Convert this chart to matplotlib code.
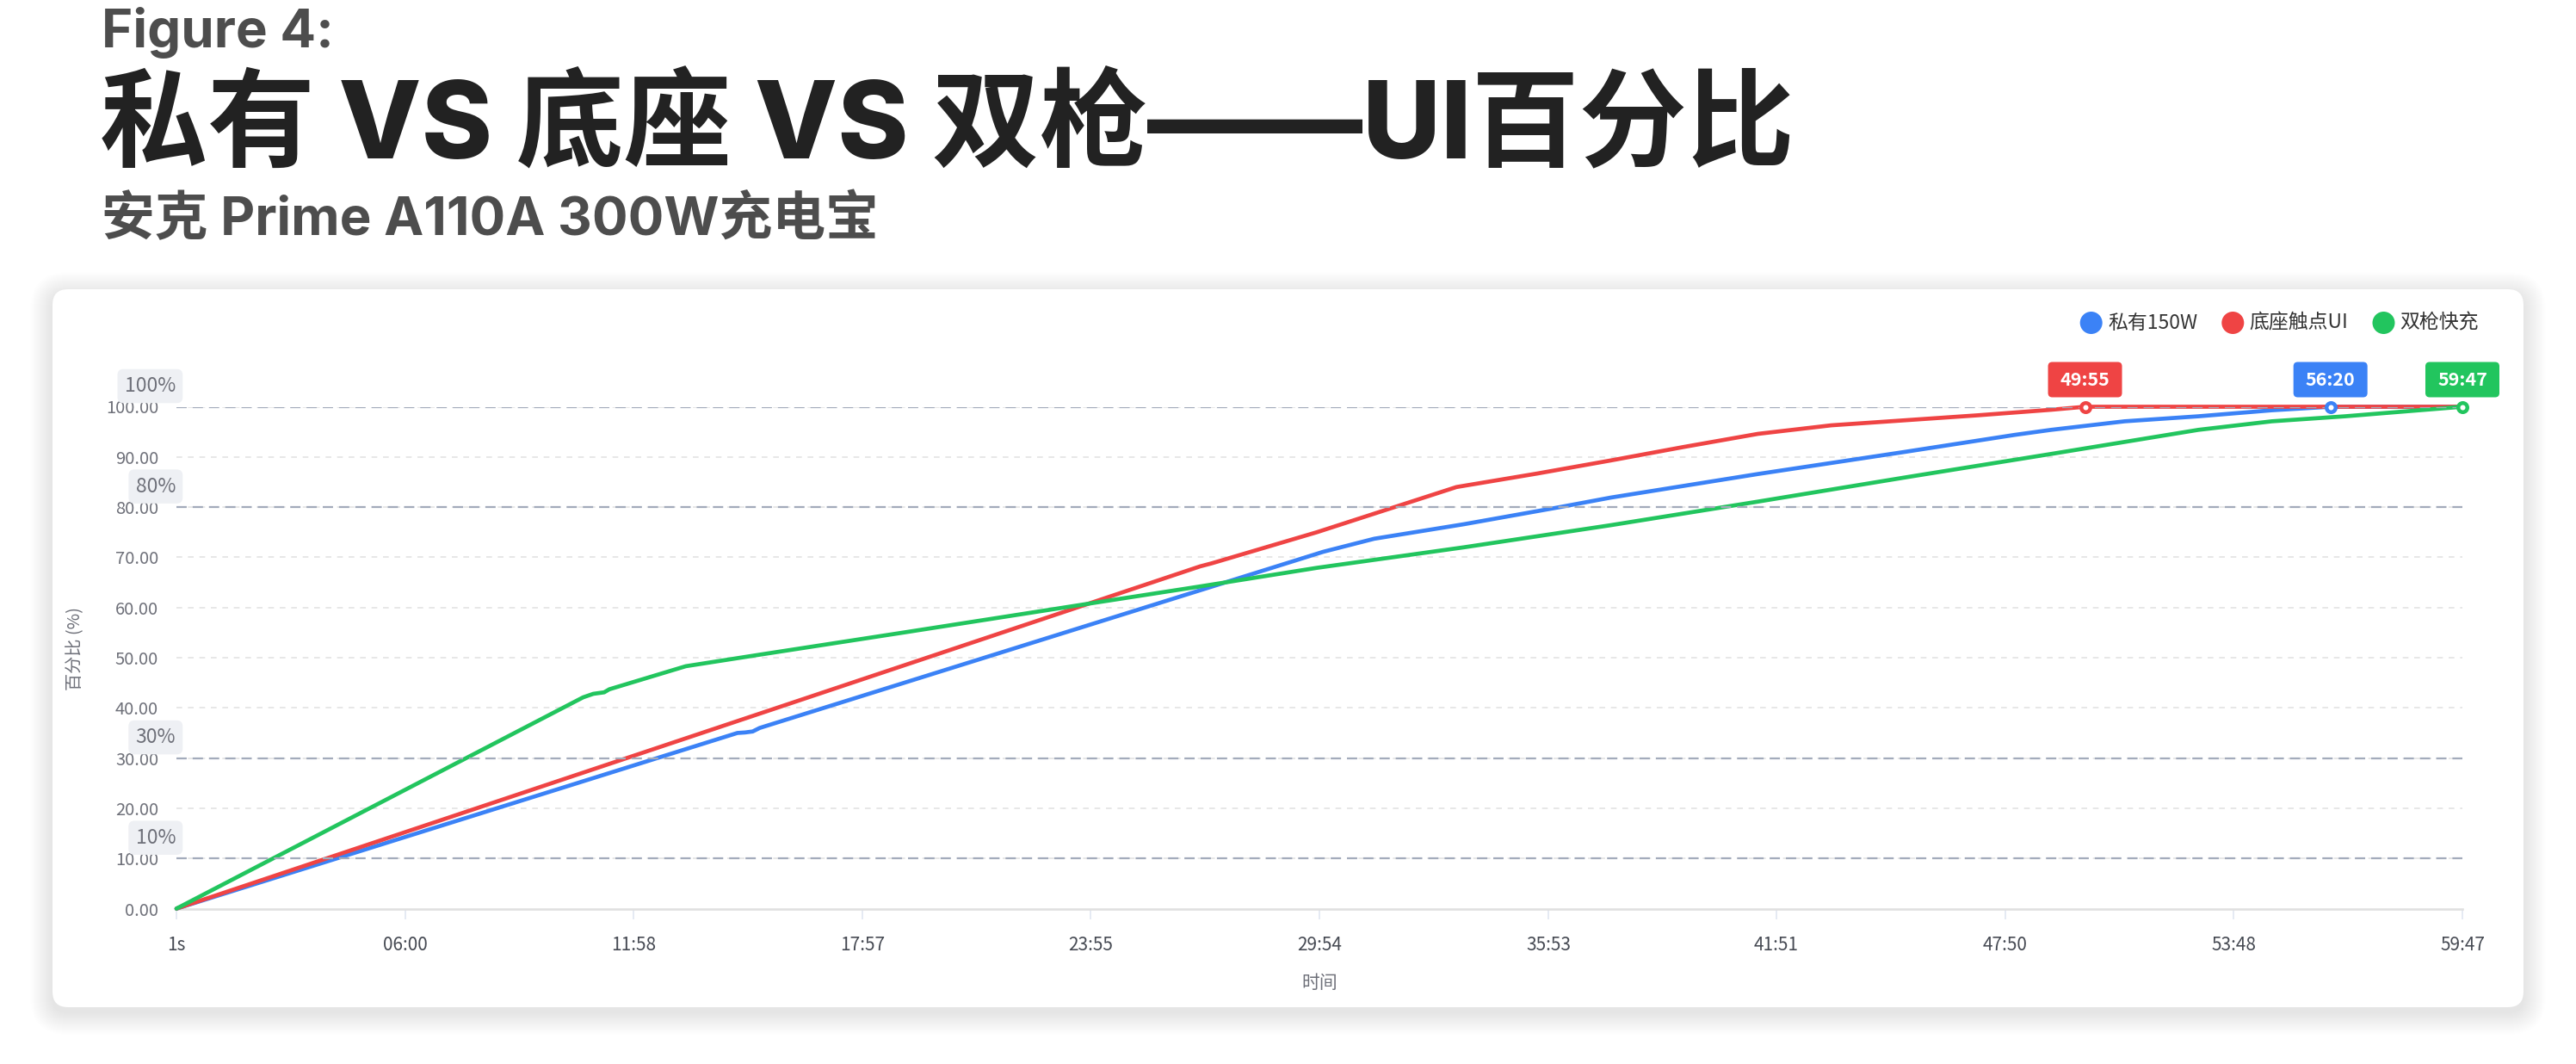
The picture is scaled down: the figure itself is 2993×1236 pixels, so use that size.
import matplotlib
matplotlib.use('Agg')
import matplotlib.pyplot as plt
from matplotlib.patches import FancyBboxPatch, Circle
from matplotlib.transforms import IdentityTransform

W, H = 2993, 1236
DPI = 100

plt.rcParams['font.family'] = ['Noto Sans CJK SC', 'DejaVu Sans']
plt.rcParams['lines.scale_dashes'] = False

# ---------------- data ----------------
series_names = ['私有150W', '底座触点UI', '双枪快充']
series_colors = ['#3b82f6', '#ef4444', '#22c55e']

# time in seconds, value in percent
blue_t = [1, 881, 893, 905, 916, 1800, 1880, 2021, 2171, 2251, 2482, 2712, 2885,
          2942, 3057, 3173, 3288, 3380, 3587]
blue_v = [0, 35.0, 35.1, 35.3, 36.0, 71.1, 73.7, 76.6, 80.0, 81.9, 86.6, 91.0, 94.4,
          95.4, 97.1, 98.1, 99.3, 100, 100]

red_t = [1, 1607, 1625, 1790, 2009, 2136, 2251, 2366, 2424, 2482, 2597, 2712,
         2827, 2942, 2995, 3587]
red_v = [0, 68.2, 68.8, 75.0, 84.0, 86.7, 89.3, 92.0, 93.3, 94.6, 96.3, 97.3,
         98.3, 99.4, 100, 100]

green_t = [1, 639, 655, 672, 680, 800, 916, 1146, 1434, 1607, 1790, 2021, 2251,
           2482, 2712, 2942, 3173, 3288, 3403, 3587]
green_v = [0, 42.1, 42.8, 43.1, 43.7, 48.3, 50.6, 55.1, 60.8, 64.2, 67.9, 72.0, 76.4,
           81.1, 85.9, 90.6, 95.4, 97.1, 98.1, 100]

series_t = [blue_t, red_t, green_t]
series_v = [blue_v, red_v, green_v]

# full-charge points
end_t = [3380, 2995, 3587]
end_labels = ['56:20', '49:55', '59:47']

x_ticks = [1, 360, 718, 1077, 1435, 1794, 2153, 2511, 2870, 3228, 3587]
x_tick_labels = ['1s', '06:00', '11:58', '17:57', '23:55', '29:54', '35:53',
                 '41:51', '47:50', '53:48', '59:47']
y_ticks = [0, 10, 20, 30, 40, 50, 60, 70, 80, 90, 100]
mark_values = [10, 30, 80, 100]
mark_labels = ['10%', '30%', '80%', '100%']

title_top = 'Figure 4:'
title_main = '私有 VS 底座 VS 双枪——UI百分比'
title_sub = '安克 Prime A110A 300W充电宝'
x_name = '时间'
y_name = '百分比 (%)'

# ---------------- figure ----------------
fig = plt.figure(figsize=(W / DPI, H / DPI), dpi=DPI)
fig.patch.set_facecolor('white')


def fx(x):
    return x / W


def fy(y):
    return 1 - y / H


# card with soft shadow (display pixel coords, origin bottom-left)
cx0, cx1 = 61, 2932
cy_top, cy_bot = 336, 1170
cw, ch = cx1 - cx0, cy_bot - cy_top
for i in range(26, 0, -1):
    sh = FancyBboxPatch((cx0 - i, H - cy_bot - i - 6), cw + 2 * i, ch + 2 * i,
                        boxstyle='round,pad=0,rounding_size=%d' % (18 + i),
                        fc='black', ec='none', alpha=0.0055,
                        transform=IdentityTransform(), zorder=0)
    fig.add_artist(sh)
card = FancyBboxPatch((cx0, H - cy_bot), cw, ch,
                      boxstyle='round,pad=0,rounding_size=18',
                      fc='white', ec='none', transform=IdentityTransform(), zorder=0.5)
fig.add_artist(card)

# titles
latin_cjk = ['Inter', 'Noto Sans CJK SC', 'DejaVu Sans']
fig.text(fx(118), fy(55), title_top, fontsize=44.5, weight='bold', color='#4d4d4d',
         family=latin_cjk, va='baseline', ha='left')
fig.text(fx(116), fy(184), title_main, fontsize=90, weight='heavy', color='#222222',
         family=latin_cjk, va='baseline', ha='left')
fig.text(fx(118), fy(273), title_sub, fontsize=44.5, weight='bold', color='#4d4d4d',
         family=latin_cjk, va='baseline', ha='left')

# axes
ax_l, ax_r = 205, 2861
ax_t, ax_b = 472.5, 1055.5
ax = fig.add_axes([fx(ax_l), fy(ax_b), (ax_r - ax_l) / W, (ax_b - ax_t) / H])
ax.set_facecolor('none')
ax.set_zorder(2)
ax.set_xlim(x_ticks[0], x_ticks[-1])
ax.set_ylim(0, 100)

for s in ['top', 'right', 'left']:
    ax.spines[s].set_visible(False)
ax.spines['bottom'].set_color('#e0e0e0')
ax.spines['bottom'].set_linewidth(1.9)

ax.set_xticks(x_ticks)
ax.set_xticklabels(x_tick_labels)
ax.set_yticks(y_ticks)
ax.set_yticklabels([f'{v:.2f}' for v in y_ticks])
ax.tick_params(axis='x', length=8.6, width=1.2, color='#e0e6f1', pad=14,
               labelsize=15, labelcolor='#464a53')
ax.tick_params(axis='y', length=0, pad=15, labelsize=14.5, labelcolor='#6e7079')

# split lines
for v in y_ticks[1:]:
    ax.axhline(v, color='#e3e3e3', lw=1.2, ls=(0, (4.8, 4.8)), zorder=1)

# series
for t, v, c in zip(series_t, series_v, series_colors):
    ax.plot(t, v, color=c, lw=3.4, solid_joinstyle='round', solid_capstyle='round',
            zorder=3, clip_on=False)

# mark lines
for v in mark_values:
    ax.axhline(v, color='#a3abbb', lw=1.6, ls=(0, (8.6, 5.0)), zorder=4)

# mark line labels
for v, lab in zip(mark_values, mark_labels):
    _, yd = ax.transData.transform((x_ticks[0], v))
    fig.text(fx(204), (yd + 24) / H, lab, ha='right', va='center', fontsize=16.5,
             color='#6e7079', zorder=5,
             bbox=dict(boxstyle='round,pad=0.36,rounding_size=0.3', fc='#eef0f4', ec='none'))

# end markers and labels
end_colors = series_colors
for t, lab, c in zip(end_t, end_labels, end_colors):
    ax.plot([t], [100], marker='o', ms=7.6, mfc='white', mec=c, mew=3.2,
            zorder=6, clip_on=False, ls='none')
    xd, yd = ax.transData.transform((t, 100))
    bw, bh = 86, 41
    cyy = yd + 31.5
    box = FancyBboxPatch((xd - bw / 2, cyy - bh / 2), bw, bh,
                         boxstyle='round,pad=0,rounding_size=5', fc=c, ec='none',
                         transform=IdentityTransform(), zorder=10)
    fig.add_artist(box)
    fig.text(xd / W, (cyy - 7.5) / H, lab, ha='center', va='baseline', color='white',
             weight='bold', fontsize=15.5, zorder=11)

# axis names
fig.text(fx(1533), fy(1142), x_name, ha='center', va='center', fontsize=15,
         color='#6e7079')
fig.text(fx(88), fy(753), y_name, ha='center', va='center', rotation=90,
         fontsize=14.5, color='#6e7079')

# legend (manual)
leg_circle_x = [2429.7, 2594.3, 2769.5]
leg_text_x = [2449, 2613, 2788]
leg_y = 375
for name, c, cxp, tx in zip(series_names, series_colors, leg_circle_x, leg_text_x):
    circ = Circle((cxp, H - leg_y), 13, fc=c, ec='none', transform=IdentityTransform(),
                  zorder=5)
    fig.add_artist(circ)
    fig.text(fx(tx), fy(leg_y), name, ha='left', va='center', fontsize=16.5,
             color='#333333')

fig.savefig('out.png', dpi=DPI, facecolor='white')
